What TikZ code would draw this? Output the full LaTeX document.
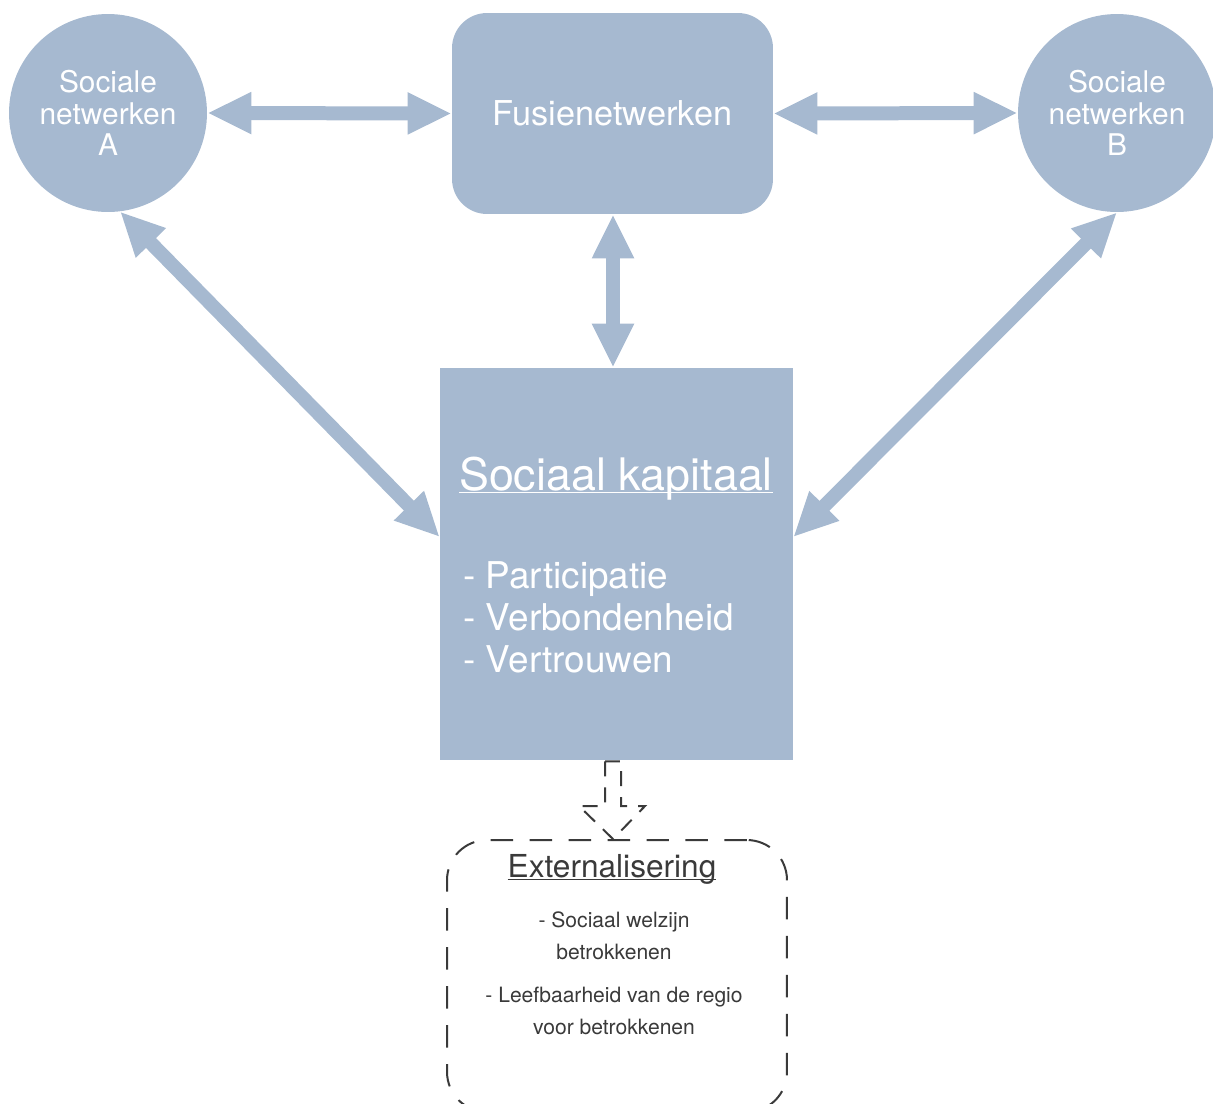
\documentclass[tikz,border=0pt]{standalone}
\usepackage{fontspec}
\setmainfont{TeX Gyre Heros}
\usetikzlibrary{arrows.meta,calc}
\definecolor{grijsblauw}{HTML}{A6B9D0}
\definecolor{donkergrijs}{HTML}{3A3A3A}

\begin{document}
\begin{tikzpicture}[
        x=0.02cm,
        y=-0.02cm,
        vlak/.style={fill=grijsblauw, draw=none, text=white, inner sep=0pt},
        pijl/.style={grijsblauw, line width=0.28cm,
            {Triangle[length=0.88cm,width=0.78cm]}-{Triangle[length=0.88cm,width=0.78cm]}},
        gestreept/.style={donkergrijs, line width=0.04cm, dash pattern=on 0.45cm off 0.33cm}]

%Rand
\useasboundingbox (0,0) rectangle (1213,1103);
\clip (0,0) rectangle (1213,1103);

%Netwerken
\node[vlak, circle, minimum size=3.96cm, align=center,
      font=\fontsize{17}{18}\selectfont] (sna) at (108,113) {Sociale\\netwerken\\A};
\node[vlak, circle, minimum size=3.96cm, align=center,
      font=\fontsize{17}{18}\selectfont] (snb) at (1117,113) {Sociale\\netwerken\\B};
\node[vlak, rectangle, rounded corners=0.7cm, minimum width=6.42cm, minimum height=4.02cm,
      font=\fontsize{19.5}{22}\selectfont] (fus) at (612.5,113.5) {Fusienetwerken};

%Sociaal kapitaal
\node[vlak, rectangle, minimum width=7.06cm, minimum height=7.84cm] (kap) at (616.5,564) {};
\node[text=white, inner sep=0pt, anchor=base, font=\fontsize{25.5}{28}\selectfont]
      (kaptitel) at (616,490) {\underline{\smash{Sociaal kapitaal}}};
% base = laatste regel
\node[text=white, inner sep=0pt, anchor=base west, align=left,
      font=\fontsize{21}{23.8}\selectfont]
      (kaplijst) at (463,672) {- Participatie\\- Verbondenheid\\- Vertrouwen};

%Externalisering
\node[gestreept, draw, rectangle, rounded corners=0.8cm, minimum width=6.8cm,
      minimum height=5.44cm] (ext) at (617,976) {};
\node[text=donkergrijs, inner sep=0pt, anchor=base, font=\fontsize{18}{20}\selectfont]
      (exttitel) at (612,877) {\underline{\smash{Externalisering}}};
\node[text=donkergrijs, inner sep=0pt, anchor=base, align=center,
      font=\fontsize{12}{18}\selectfont]
      (extwelzijn) at (614,959) {- Sociaal welzijn\\betrokkenen};
\node[text=donkergrijs, inner sep=0pt, anchor=base, align=center,
      font=\fontsize{12}{18}\selectfont]
      (extregio) at (614,1034) {- Leefbaarheid van de regio\\voor betrokkenen};

%Pijlen
\draw[pijl] (sna.east) -- (fus.west);
\draw[pijl] (fus.east) -- (snb.west);
\draw[pijl] (fus.south -| 613,0) -- (kap.north -| 613,0);
\draw[pijl] (sna.-83) -- ($(kap.west)+(0,-27)$);
\draw[pijl] (snb.south) -- ($(kap.east)+(0,-27)$);

%Gestreepte pijl
\coordinate (pb) at (kap.south -| 613,0);
\coordinate (pt) at (ext.north -| 613,0);
\draw[gestreept, dash pattern=on 0.3cm off 0.22cm]
      ($(pb)+(-8,1)$) -- ($(pt)+(-8,-33)$) -- ($(pt)+(-34,-33)$) -- (pt)
      -- ($(pt)+(32,-33)$) -- ($(pt)+(8,-33)$) -- ($(pb)+(8,1)$) -- cycle;

\end{tikzpicture}
\end{document}
